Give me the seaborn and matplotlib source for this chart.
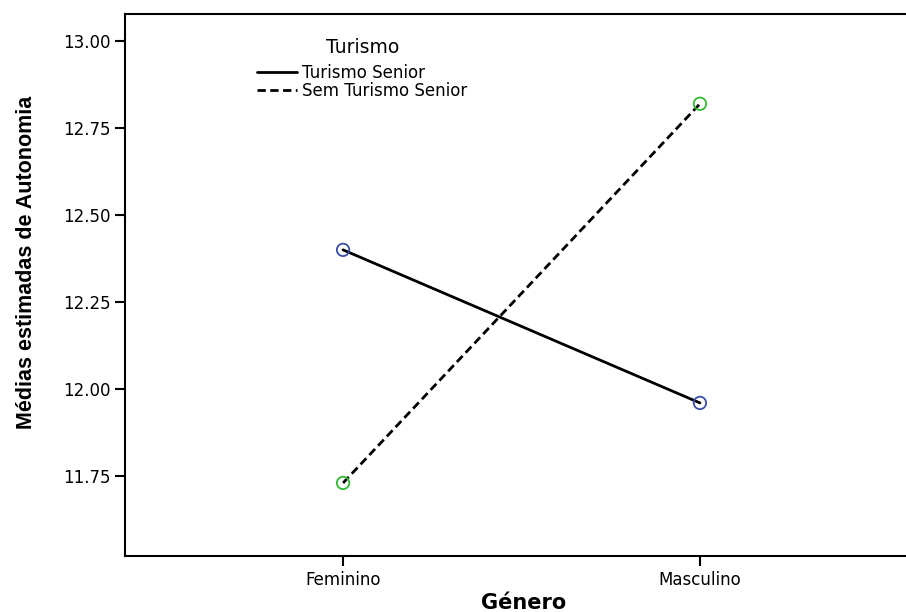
import pandas as pd
import matplotlib
matplotlib.use('Agg')
import matplotlib.pyplot as plt
import seaborn as sns
from matplotlib import font_manager

# -----------------------------
# Estimated marginal means
# -----------------------------
genero = ['Feminino', 'Masculino']
turismo_senior = [12.40, 11.96]
sem_turismo_senior = [11.73, 12.82]
grupos = ['Turismo Senior', 'Sem Turismo Senior']

df = pd.DataFrame({
    'Género': genero * 2,
    'Media': turismo_senior + sem_turismo_senior,
    'Turismo': [grupos[0]] * 2 + [grupos[1]] * 2,
})

sns.set_style('white')
plt.rcParams['font.family'] = ['DejaVu Sans']
plt.rcParams['text.color'] = 'black'
plt.rcParams['axes.labelcolor'] = 'black'

names = {f.name for f in font_manager.fontManager.ttflist}
narrow = 'Liberation Sans Narrow' if 'Liberation Sans Narrow' in names else 'Liberation Sans'

fig = plt.figure(figsize=(9.06, 6.12), dpi=100)
ax = fig.add_axes([125 / 906, 1 - 556 / 612, 793 / 906, 542 / 612])

# lines
sns.lineplot(data=df, x='Género', y='Media', hue='Turismo', style='Turismo',
             hue_order=grupos, style_order=grupos,
             palette={grupos[0]: 'black', grupos[1]: 'black'},
             dashes={grupos[0]: '', grupos[1]: (3, 1.6)},
             linewidth=2.0, ax=ax)

# hollow markers
sns.scatterplot(data=df, x='Género', y='Media', hue='Turismo', hue_order=grupos,
                palette={grupos[0]: '#3a4da8', grupos[1]: '#35b935'},
                s=80, linewidth=1.3, legend=False, ax=ax, zorder=5)
pts = ax.collections[-1]
pts.set_edgecolors(pts.get_facecolors())
pts.set_facecolors('none')

ax.set_xlim(-0.611, 1.611)
ax.set_ylim(11.52, 13.078)
ax.set_yticks([11.75, 12.00, 12.25, 12.50, 12.75, 13.00])
ax.set_yticklabels(['%.2f' % v for v in ax.get_yticks()])

for s in ['left', 'bottom', 'top']:
    ax.spines[s].set_color('black')
    ax.spines[s].set_linewidth(1.5)
ax.spines['right'].set_visible(False)

ax.tick_params(axis='both', direction='out', length=7, width=1.5, colors='black',
               labelsize=12, left=True, bottom=True)

ax.set_ylabel('Médias estimadas de Autonomia', fontsize=15.5, fontweight='bold',
              family=narrow)
ax.yaxis.set_label_coords(-0.111, 0.542)
ax.set_xlabel('Género', fontsize=15, fontweight='bold')
ax.xaxis.set_label_coords(0.503, -0.068)

handles, labels = ax.get_legend_handles_labels()
keep = [(h, l) for h, l in zip(handles, labels) if l in grupos]
leg = ax.legend([h for h, _ in keep], [l for _, l in keep], title='Turismo',
                loc='upper left', bbox_to_anchor=(257 / 906, 1 - 38 / 612),
                bbox_transform=fig.transFigure, frameon=False, fontsize=12,
                title_fontsize=13.5, handlelength=2.4, handletextpad=0.3,
                labelspacing=0.0, borderpad=0, borderaxespad=0)
leg._legend_box.sep = 5
for h in leg.get_lines():
    h.set_linewidth(2.0)

plt.savefig('out.png', dpi=100)
